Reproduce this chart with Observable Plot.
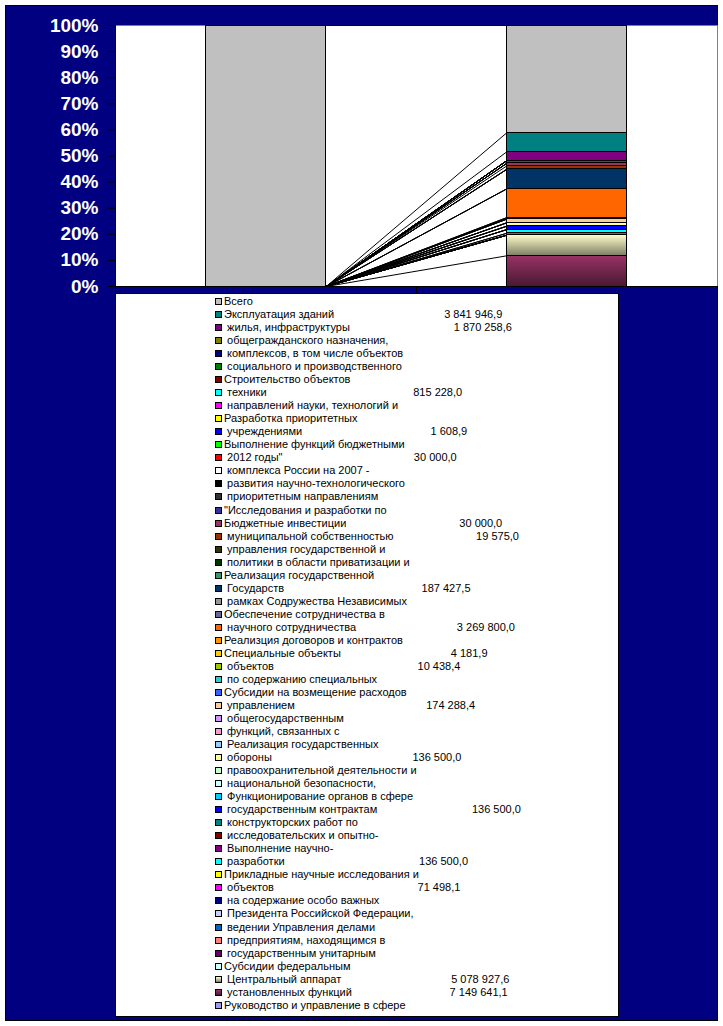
<!DOCTYPE html>
<html>
<head>
<meta charset="utf-8">
<script src="https://cdn.jsdelivr.net/npm/d3@7"></script>
<script src="https://cdn.jsdelivr.net/npm/@observablehq/plot@0.6"></script>
<style>
html, body { margin: 0; padding: 0; background: #fff; width: 723px; height: 1026px; overflow: hidden; font-family: Arial, "Liberation Sans", sans-serif; }
#chartArea { position: absolute; left: 5px; top: 5px; width: 713px; height: 1016px; box-sizing: border-box; background: #000080; border: 1px solid #000; }
#plot { position: absolute; left: 5px; top: 5px; width: 713px; height: 290px; }
#legend { position: absolute; left: 115px; top: 293px; width: 504px; height: 724px; box-sizing: border-box; background: #fff; border: 1px solid #000; padding-top: 1px; }
.row { display: flex; align-items: center; height: 13.04px; padding-left: 99px; white-space: pre; font-size: 11px; line-height: 13px; color: #000; font-family: Arial, "Liberation Sans", sans-serif; }
.sw { width: 7px; height: 7px; box-sizing: border-box; border: 1px solid #000; margin-right: 2px; flex: none; }
</style>
</head>
<body>
<div id="chartArea"></div>
<div id="plot"></div>
<div id="legend"></div>
<script>
// ---- Data (legend order, top to bottom; the stack is drawn bottom-up in reverse order) ----
const sp = n => " ".repeat(n);
const seriesNames = [
  "Всего",
  "Эксплуатация зданий" + sp(36) + "3 841 946,9",
  " жилья, инфраструктуры" + sp(34) + "1 870 258,6",
  " общегражданского назначения,",
  " комплексов, в том числе объектов",
  " социального и производственного",
  "Строительство объектов",
  " техники" + sp(48) + "815 228,0",
  " направлений науки, технологий и",
  "Разработка приоритетных",
  " учреждениями" + sp(42) + "1 608,9",
  "Выполнение функций бюджетными",
  " 2012 годы\"" + sp(43) + "30 000,0",
  " комплекса России на 2007 -",
  " развития научно-технологического",
  " приоритетным направлениям",
  "\"Исследования и разработки по",
  "Бюджетные инвестиции" + sp(37) + "30 000,0",
  " муниципальной собственностью" + sp(27) + "19 575,0",
  " управления государственной и",
  " политики в области приватизации и",
  "Реализация государственной",
  " Государств" + sp(45) + "187 427,5",
  " рамках Содружества Независимых",
  "Обеспечение сотрудничества в",
  " научного сотрудничества" + sp(33) + "3 269 800,0",
  "Реализция договоров и контрактов",
  "Специальные объекты" + sp(36) + "4 181,9",
  " объектов" + sp(47) + "10 438,4",
  " по содержанию специальных",
  "Субсидии на возмещение расходов",
  " управлением" + sp(43) + "174 288,4",
  " общегосударственным",
  " функций, связанных с",
  " Реализация государственных",
  " обороны" + sp(46) + "136 500,0",
  " правоохранительной деятельности и",
  " национальной безопасности,",
  " Функционирование органов в сфере",
  " государственным контрактам" + sp(31) + "136 500,0",
  " конструкторских работ по",
  " исследовательских и опытно-",
  " Выполнение научно-",
  " разработки" + sp(44) + "136 500,0",
  "Прикладные научные исследования и",
  " объектов" + sp(47) + "71 498,1",
  " на содержание особо важных",
  " Президента Российской Федерации,",
  " ведении Управления делами",
  " предприятиям, находящимся в",
  " государственным унитарным",
  "Субсидии федеральным",
  " Центральный аппарат" + sp(36) + "5 078 927,6",
  " установленных функций" + sp(32) + "7 149 641,1",
  "Руководство и управление в сфере"
];

// Share (%) of each series in the first column (total) and in the second column (structure)
const totalColumn = [
  100, 0, 0, 0, 0, 0, 0, 0, 0, 0,
  0, 0, 0, 0, 0, 0, 0, 0, 0, 0,
  0, 0, 0, 0, 0, 0, 0, 0, 0, 0,
  0, 0, 0, 0, 0, 0, 0, 0, 0, 0,
  0, 0, 0, 0, 0, 0, 0, 0, 0, 0,
  0, 0, 0, 0, 0
];
const structureColumn = [
  41.1, 7.3, 3.4, 0, 0, 0, 0, 0, 0, 0,
  0, 0, 1.0, 0, 0, 0, 0, 1.0, 1.3, 0,
  0, 0, 7.5, 0, 0, 11.0, 0, 0.3, 0.3, 0,
  0, 1.4, 0, 0, 0, 1.3, 0, 0, 0, 1.3,
  0, 0, 0, 1.4, 0, 0.75, 0, 0, 0, 0,
  0, 0, 7.89, 11.76, 0
];
const columns = [totalColumn, structureColumn];
const yTicks = [0, 10, 20, 30, 40, 50, 60, 70, 80, 90, 100];

// ---- Styles ----
const palette = [
  "#C0C0C0", "#008080", "#800080", "#808000", "#000080", "#008000", "#800000", "#00FFFF", "#FF00FF", "#FFFF00",
  "#0000FF", "#00FF00", "#FF0000", "#FFFFFF", "#000000", "#333333", "#333399", "#993366", "#993300", "#333300",
  "#003300", "#339966", "#003366", "#969696", "#666699", "#FF6600", "#FF9900", "#FFCC00", "#99CC00", "#33CCCC",
  "#3366FF", "#FFCC99", "#CC99FF", "#FF99CC", "#99CCFF", "#FFFF99", "#CCFFCC", "#CCFFFF", "#00CCFF", "#0000FF",
  "#008080", "#800000", "#800080", "#00FFFF", "#FFFF00", "#FF00FF", "#000080", "#CCCCFF", "#0066CC", "#FF8080",
  "#660066", "#CCFFFF", "#FFFFCC", "#993366", "#9999FF"
];
const gradients = { 52: ["#FFFFCC", "#7f7f66"], 53: ["#993366", "#4a1932"] };
const fillOf = k => gradients[k] ? `url(#grad${k})` : palette[k];

const BAR = 0.4; // bar width as a share of the category

// ---- Build stacked segments and series lines ----
const segments = [];
const tops = columns.map(() => []);
columns.forEach((vals, ci) => {
  let cum = 0;
  for (let k = vals.length - 1; k >= 0; k--) {
    const v = vals[k];
    if (v > 0) segments.push({ k, x1: ci + 0.5 - BAR / 2, x2: ci + 0.5 + BAR / 2, y1: cum, y2: cum + v });
    cum += v;
    tops[ci][k] = cum;
  }
});
const seriesLines = seriesNames.map((_, k) => ({
  k, xa: 0.5 + BAR / 2, xb: 1.5 - BAR / 2, ya: tops[0][k], yb: tops[1][k]
}));

const chart = Plot.plot({
  width: 713,
  height: 290,
  marginLeft: 110,
  marginRight: 1,
  marginTop: 20,
  marginBottom: 9,
  style: { background: "transparent", fontFamily: "Arial, 'Liberation Sans', sans-serif", overflow: "visible" },
  x: { domain: [0, 2], label: null },
  y: { domain: [0, 100], label: null },
  color: { type: "identity" },
  marks: [
    Plot.frame({ fill: "white", stroke: "#808080" }),
    Plot.rect(segments, { x1: "x1", x2: "x2", y1: "y1", y2: "y2", fill: d => fillOf(d.k), stroke: "black", strokeWidth: 1, shapeRendering: "crispEdges" }),
    Plot.link(seriesLines, { x1: "xa", x2: "xb", y1: "ya", y2: "yb", stroke: "black", strokeWidth: 1 }),
    Plot.ruleX([0], { stroke: "black", shapeRendering: "crispEdges" }),
    Plot.ruleY([0], { stroke: "black", shapeRendering: "crispEdges" }),
    Plot.axisY({ ticks: yTicks, tickFormat: d => d + "%", tickSize: 7, tickPadding: 10, stroke: "black", fill: "white", fontSize: 19, fontWeight: "bold" }),
    Plot.axisX({ ticks: [0, 1, 2], tickSize: 7, tickFormat: () => "", stroke: "black" })
  ]
});

// gradient definitions for the two gradient-filled series
const NS = "http://www.w3.org/2000/svg";
const defs = document.createElementNS(NS, "defs");
for (const [k, [c0, c1]] of Object.entries(gradients)) {
  const g = document.createElementNS(NS, "linearGradient");
  g.setAttribute("id", "grad" + k);
  g.setAttribute("x1", "0"); g.setAttribute("y1", "0"); g.setAttribute("x2", "0"); g.setAttribute("y2", "1");
  [[0, c0], [1, c1]].forEach(([o, c]) => {
    const s = document.createElementNS(NS, "stop");
    s.setAttribute("offset", o);
    s.setAttribute("stop-color", c);
    g.appendChild(s);
  });
  defs.appendChild(g);
}
chart.insertBefore(defs, chart.firstChild);
document.getElementById("plot").appendChild(chart);

// ---- Legend ----
const legend = document.getElementById("legend");
seriesNames.forEach((name, k) => {
  const row = document.createElement("div");
  row.className = "row";
  const sw = document.createElement("span");
  sw.className = "sw";
  sw.style.background = gradients[k] ? `linear-gradient(${gradients[k][0]}, ${gradients[k][1]})` : palette[k];
  const label = document.createElement("span");
  label.textContent = name;
  row.appendChild(sw);
  row.appendChild(label);
  legend.appendChild(row);
});
</script>
</body>
</html>
